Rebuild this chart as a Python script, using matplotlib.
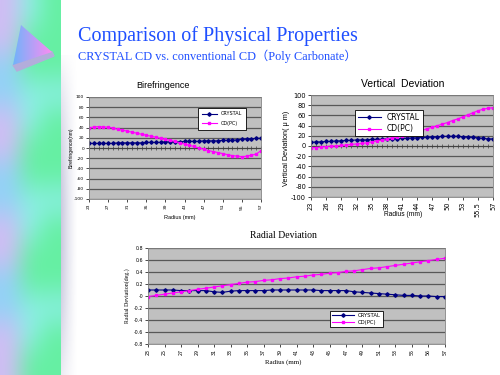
import numpy as np
import matplotlib.pyplot as plt
from matplotlib.patches import Polygon

plt.rcParams['axes.unicode_minus'] = False

# categories (radius in mm), Excel category axis
radius = [str(r) for r in range(23, 56)] + ['55.5', '56', '56.5', '57']

# Birefringence (nm)
biref_crystal = [9, 9, 9, 9, 9, 9, 10, 10, 10, 10, 10, 10, 11, 11, 11, 11, 12, 12, 12,
                 12, 13, 13, 13, 13, 14, 14, 14, 14, 15, 15, 15, 16, 17, 18, 18, 19, 19]
biref_cd = [40, 41, 42, 41, 41, 39, 37, 35, 33, 31, 29, 27, 25, 23, 21, 19, 17, 15, 13,
            10, 8, 5, 3, 0, -2, -5, -7, -9, -11, -13, -15, -16, -17, -16, -14, -12, -5]

# Vertical deviation (um)
vert_crystal = [7, 8, 8, 9, 9, 10, 10, 11, 11, 12, 12, 12, 13, 13, 13, 14, 14, 14, 15,
                15, 16, 16, 17, 17, 18, 18, 19, 19, 19, 19, 18, 18, 17, 16, 15, 14, 14]
vert_cd = [-3, -3, -2, -1, 0, 0, 1, 2, 3, 4, 5, 6, 8, 10, 12, 14, 16, 18, 20, 22, 25,
           28, 31, 34, 37, 40, 43, 46, 50, 53, 57, 61, 65, 69, 72, 74, 75]

# Radial deviation (deg.)
radial_crystal = [0.10, 0.10, 0.10, 0.10, 0.09, 0.09, 0.09, 0.09, 0.07, 0.06, 0.08,
                  0.09, 0.09, 0.09, 0.09, 0.10, 0.10, 0.10, 0.10, 0.10, 0.10, 0.09,
                  0.09, 0.09, 0.09, 0.07, 0.06, 0.05, 0.04, 0.03, 0.02, 0.01, 0.01,
                  0.0, 0.0, -0.01, -0.01]
radial_cd = [-0.01, 0.01, 0.03, 0.05, 0.07, 0.09, 0.11, 0.13, 0.15, 0.17, 0.19, 0.21,
             0.23, 0.24, 0.26, 0.27, 0.29, 0.30, 0.32, 0.33, 0.35, 0.36, 0.38, 0.39,
             0.41, 0.42, 0.44, 0.46, 0.47, 0.49, 0.51, 0.53, 0.55, 0.57, 0.59, 0.61, 0.63]

W, H = 500, 375
fig = plt.figure(figsize=(5, 3.75), dpi=100)


def box(x0, y0, x1, y1):
    # pixel box -> figure fraction
    return [x0 / W, 1 - y1 / H, (x1 - x0) / W, (y1 - y0) / H]


# ---- slide background decoration ----
bg = fig.add_axes([0, 0, 1, 1])
lav = (0.82, 0.74, 0.96)
sky = (0.58, 0.82, 0.97)
grn = (0.40, 0.94, 0.64)
cyn = (0.55, 0.94, 0.90)
rows = 14
strip = np.zeros((rows, 3, 3))
for i in range(rows):
    strip[i, 0] = lav if i % 4 in (0, 1) else sky
    strip[i, 1] = grn if i % 4 in (1, 2) else cyn
    strip[i, 2] = grn if i % 4 != 3 else cyn
bg.imshow(strip, extent=(0, 61, H, 0), interpolation='bicubic', aspect='auto', zorder=0)

# grey swoosh beside the strip
shade = np.zeros((60, 20, 4))
shade[..., :3] = (0.60, 0.60, 0.76)
fade_x = np.linspace(0.6, 0.0, 20) ** 1.3
fade_y = np.sin(np.linspace(0.05, np.pi - 0.3, 60)) ** 0.8
shade[..., 3] = fade_y[:, None] * fade_x[None, :]
bg.imshow(shade, extent=(61, 78, H, 55), interpolation='bilinear', aspect='auto', zorder=1)

# triangle logo
shadow = Polygon([(13, 65), (52, 52), (54, 56), (17, 71)], closed=True,
                 color=(0.70, 0.68, 0.86), zorder=2)
bg.add_patch(shadow)
tri = Polygon([(21, 25), (52, 52), (13, 65)], closed=True, facecolor='none',
              edgecolor='none', zorder=3)
bg.add_patch(tri)
grad = np.zeros((2, 30, 3))
grad[:, :, 0] = np.linspace(0.45, 0.98, 30)
grad[:, :, 1] = np.linspace(0.70, 0.55, 30)
grad[:, :, 2] = np.linspace(0.98, 0.95, 30)
im = bg.imshow(grad, extent=(13, 52, 65, 25), interpolation='bilinear', aspect='auto', zorder=3)
im.set_clip_path(tri)
bg.set_xlim(0, W)
bg.set_ylim(H, 0)
bg.axis('off')

# ---- slide titles ----
serif = ['Liberation Serif', 'Noto Sans CJK JP']
sans = ['Liberation Sans', 'DejaVu Sans']
fig.text(78 / W, 1 - 36 / H, 'Comparison of Physical Properties', family=serif,
         fontsize=14.5, color='#1f4fff', va='center', ha='left')
fig.text(78 / W, 1 - 56 / H, 'CRYSTAL CD vs. conventional CD（Poly Carbonate）',
         family=serif, fontsize=8.8, color='#1f4fff', va='center', ha='left')


def chart(rect, crystal, cd, ylim, ystep, step, fs, zero_axis=True):
    ax = fig.add_axes(box(*rect))
    x = np.arange(len(radius))
    ax.set_facecolor('#c0c0c0')
    ax.set_xlim(0, len(radius) - 1)
    ax.set_ylim(*ylim)
    ax.set_yticks(np.round(np.arange(ylim[0], ylim[1] + ystep / 2, ystep), 6))
    ax.yaxis.set_major_formatter(plt.FuncFormatter(lambda v, p: '%g' % round(v, 6)))
    ax.yaxis.grid(True, color='#585858', lw=0.9)
    ax.set_axisbelow(True)
    ax.set_xticks(x[::step])
    ax.set_xticklabels(radius[::step], rotation=90)
    ax.tick_params(length=2, width=0.5, labelsize=fs, pad=1.5)
    for s in ax.spines.values():
        s.set_color('#808080')
        s.set_linewidth(0.6)
    if zero_axis:
        ax.axhline(0, color='#404040', lw=0.6, zorder=1.5)
        ax.plot(x, np.zeros(len(x)), ls='none', marker='|', ms=2.5, mew=0.5,
                color='#404040', zorder=1.6)
    ax.plot(x, crystal, color='#000080', marker='D', ms=1.8, lw=0.8, label='CRYSTAL')
    ax.plot(x, cd, color='#ff00ff', marker='s', ms=1.8, lw=0.8, label='CD(PC)')
    return ax


# Birefringence
ax1 = chart((89, 97, 261, 199), biref_crystal, biref_cd, (-100, 100), 20, 4, 3.2)
leg = ax1.legend(loc='upper left', bbox_to_anchor=(0.62, 0.92), fontsize=3.5,
                 frameon=True, fancybox=False, edgecolor='black', framealpha=1,
                 handlelength=3, borderpad=0.8, labelspacing=0.9)
leg.get_frame().set_linewidth(0.6)
fig.text(163 / W, 1 - 85 / H, 'Birefringence', family=sans, fontsize=6.5,
         ha='center', va='center')
fig.text(71 / W, 1 - 148 / H, 'Birefringence(nm)', family=sans, fontsize=3.6,
         rotation=90, ha='center', va='center')
fig.text(180 / W, 1 - 218 / H, 'Radius (mm)', family=sans, fontsize=4,
         ha='center', va='center')

# Vertical deviation
ax2 = chart((311, 95, 493, 197), vert_crystal, vert_cd, (-100, 100), 20, 3, 4.8)
leg = ax2.legend(loc='upper left', bbox_to_anchor=(0.22, 0.89), fontsize=5.5,
                 frameon=True, fancybox=False, edgecolor='black', framealpha=1,
                 handlelength=3, borderpad=0.4, labelspacing=0.3)
leg.get_frame().set_linewidth(0.6)
fig.text(403 / W, 1 - 84 / H, 'Vertical  Deviation', family=sans, fontsize=7.5,
         ha='center', va='center')
fig.text(287 / W, 1 - 148 / H, 'Vertical Deviation( μ m)', family=sans, fontsize=5.2,
         rotation=90, ha='center', va='center')
fig.text(403 / W, 1 - 214 / H, 'Radius (mm)', family=sans, fontsize=4.8,
         ha='center', va='center')

# Radial deviation
ax3 = chart((148, 248, 445, 344), radial_crystal, radial_cd, (-0.8, 0.8), 0.2, 2, 3.4,
            zero_axis=False)
leg = ax3.legend(loc='upper left', bbox_to_anchor=(0.605, 0.37), fontsize=3.8,
                 frameon=True, fancybox=False, edgecolor='black', framealpha=1,
                 handlelength=4, borderpad=0.4, labelspacing=0.4)
leg.get_frame().set_linewidth(0.6)
fig.text(283 / W, 1 - 235 / H, 'Radial Deviation', family=serif, fontsize=7,
         ha='center', va='center')
fig.text(127 / W, 1 - 296 / H, 'Radial Deviation(deg.)', family=serif, fontsize=4.2,
         rotation=90, ha='center', va='center')
fig.text(283 / W, 1 - 362 / H, 'Radius (mm)', family=serif, fontsize=5,
         ha='center', va='center')

fig.savefig('out.png', dpi=100)
